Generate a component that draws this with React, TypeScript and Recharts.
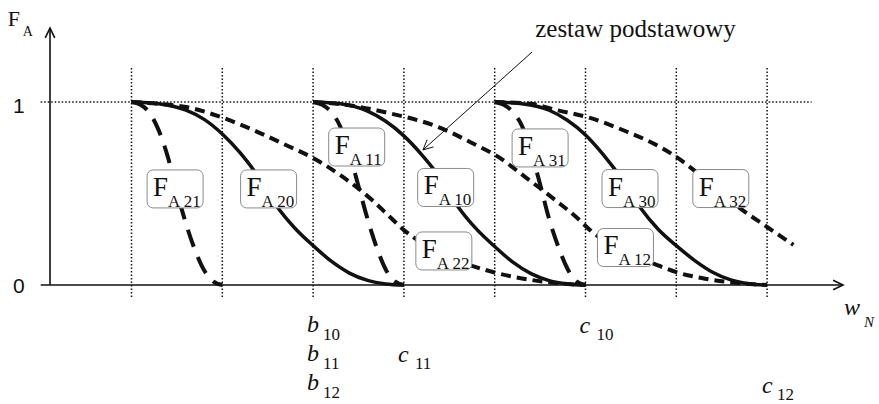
import React from "react";
import { LineChart, Line, XAxis, YAxis, ReferenceLine, ReferenceDot } from "recharts";

// w_N (jednostki siatki: b20 = 1, b10 = 3, b30 = 5) i odczytane F_A
const fa21X = [1, 1.1, 1.2, 1.3, 1.4, 1.5, 1.6, 1.7, 1.8, 1.9, 2.0];
const fa21Y = [1, 0.985, 0.94, 0.845, 0.7, 0.51, 0.335, 0.19, 0.08, 0.02, 0];

const fa20X = [1, 1.3, 1.6, 1.8, 2.0, 2.2, 2.4, 2.6, 2.8, 3.0, 3.2, 3.4, 3.6, 3.8, 4.0];
const fa20Y = [1, 0.99, 0.955, 0.905, 0.825, 0.72, 0.59, 0.43, 0.31, 0.215, 0.13, 0.065, 0.025, 0.006, 0];

const fa22X = [1, 1.3, 1.6, 2.0, 2.35, 2.7, 3.0, 3.3, 3.65, 3.85, 4.0, 4.15, 4.4, 4.75, 5.0, 5.3, 5.65, 6.0];
const fa22Y = [1, 0.99, 0.973, 0.915, 0.845, 0.765, 0.694, 0.6, 0.464, 0.37, 0.3, 0.245, 0.17, 0.105, 0.068, 0.036, 0.012, 0];

const fa11X = [3, 3.1, 3.2, 3.3, 3.4, 3.5, 3.6, 3.7, 3.8, 3.9, 4.0];
const fa11Y = [1, 0.985, 0.945, 0.865, 0.72, 0.54, 0.36, 0.205, 0.085, 0.02, 0];

const fa10X = [3, 3.3, 3.6, 3.8, 4.0, 4.2, 4.4, 4.6, 4.8, 5.0, 5.2, 5.4, 5.6, 5.8, 6.0];
const fa10Y = [1, 0.99, 0.95, 0.895, 0.815, 0.71, 0.585, 0.425, 0.305, 0.21, 0.125, 0.062, 0.024, 0.006, 0];

const fa12X = [3, 3.4, 3.83, 4.38, 4.75, 5.04, 5.31, 5.69, 5.9, 6.05, 6.2, 6.5, 6.79, 7.0, 7.3, 7.65, 8.0];
const fa12Y = [1, 0.982, 0.94, 0.863, 0.776, 0.7, 0.6, 0.455, 0.37, 0.3, 0.245, 0.17, 0.109, 0.07, 0.036, 0.012, 0];

const fa31X = [5, 5.1, 5.2, 5.3, 5.4, 5.5, 5.6, 5.7, 5.8, 5.9, 6.0];
const fa31Y = [1, 0.985, 0.945, 0.87, 0.73, 0.55, 0.36, 0.21, 0.09, 0.02, 0];

const fa30X = [5, 5.3, 5.6, 5.8, 6.0, 6.2, 6.4, 6.6, 6.8, 7.0, 7.2, 7.4, 7.6, 7.8, 8.0];
const fa30Y = [1, 0.99, 0.955, 0.9, 0.82, 0.71, 0.58, 0.425, 0.305, 0.215, 0.135, 0.07, 0.028, 0.007, 0];

const fa32X = [5, 5.4, 5.68, 6.05, 6.41, 6.78, 7.0, 7.2, 7.45, 7.7, 8.0, 8.29];
const fa32Y = [1, 0.99, 0.956, 0.913, 0.847, 0.765, 0.7, 0.625, 0.52, 0.42, 0.317, 0.219];

// pionowe linie siatki
const gridX = [1, 2, 3, 4, 5, 6, 7, 8];

const toPoints = (xs: number[], ys: number[]) => xs.map((x, i) => ({ x, y: ys[i] }));

const SOLID = undefined;
const LONG = "18 11";
const SHORT = "10 6";

const curves = [
  { id: "fa21", data: toPoints(fa21X, fa21Y), dash: LONG },
  { id: "fa20", data: toPoints(fa20X, fa20Y), dash: SOLID },
  { id: "fa22", data: toPoints(fa22X, fa22Y), dash: SHORT },
  { id: "fa11", data: toPoints(fa11X, fa11Y), dash: LONG },
  { id: "fa10", data: toPoints(fa10X, fa10Y), dash: SOLID },
  { id: "fa12", data: toPoints(fa12X, fa12Y), dash: SHORT },
  { id: "fa31", data: toPoints(fa31X, fa31Y), dash: LONG },
  { id: "fa30", data: toPoints(fa30X, fa30Y), dash: SOLID },
  { id: "fa32", data: toPoints(fa32X, fa32Y), dash: SHORT },
];

const boxes = [
  { sub: "A 21", x: 1.48, y: 0.525 },
  { sub: "A 20", x: 2.51, y: 0.525 },
  { sub: "A 11", x: 3.48, y: 0.754 },
  { sub: "A 10", x: 4.46, y: 0.533 },
  { sub: "A 22", x: 4.44, y: 0.186 },
  { sub: "A 31", x: 5.5, y: 0.749 },
  { sub: "A 30", x: 6.49, y: 0.527 },
  { sub: "A 32", x: 7.49, y: 0.527 },
  { sub: "A 12", x: 6.44, y: 0.205 },
];

const SERIF = "Liberation Serif";
const SANS = "Liberation Sans";
const INK = "#111";

const serif = (size: number, italic = false) => ({
  fontFamily: SERIF,
  fontSize: size,
  fontStyle: italic ? "italic" : "normal",
});

const BoxLabel = ({ cx, cy, sub }: { cx: number; cy: number; sub: string }) => (
  <g>
    <rect x={cx - 28} y={cy - 19} width={56} height={38} rx={6} fill="#fff" stroke="#8a8a8a" strokeWidth={1} />
    <text x={cx - 22} y={cy + 7} style={serif(27)} fill={INK}>F</text>
    <text x={cx - 7} y={cy + 18} style={serif(17)} fill={INK}>{sub}</text>
  </g>
);

const Sym = ({ cx, cy, main, sub, dxSub, dySub }: any) => (
  <g>
    <text x={cx} y={cy} style={serif(24, true)} fill={INK}>{main}</text>
    <text x={cx + dxSub} y={cy + dySub} style={serif(17)} fill={INK}>{sub}</text>
  </g>
);

const arrowHead = (p: any, head: number) => {
  const { x1, y1, x2, y2 } = p;
  const a = Math.atan2(y2 - y1, x2 - x1);
  const s = 0.45;
  const pA = [x2 - head * Math.cos(a - s), y2 - head * Math.sin(a - s)];
  const pB = [x2 - head * Math.cos(a + s), y2 - head * Math.sin(a + s)];
  return `${pA[0]},${pA[1]} ${x2},${y2} ${pB[0]},${pB[1]}`;
};

const AxisArrow = (p: any) => (
  <g>
    <line x1={p.x1} y1={p.y1} x2={p.x2} y2={p.y2} stroke={INK} strokeWidth={1.6} />
    <polyline points={arrowHead(p, 11)} fill="none" stroke={INK} strokeWidth={1.6} />
  </g>
);

const ThinArrow = (p: any) => (
  <g>
    <line x1={p.x1} y1={p.y1} x2={p.x2} y2={p.y2} stroke={INK} strokeWidth={1} />
    <polyline points={arrowHead(p, 11)} fill="none" stroke={INK} strokeWidth={1} />
  </g>
);

export default function App() {
  return (
    <div style={{ position: "absolute", left: 0, top: 0, width: 879, height: 404, background: "#fff" }}>
      <LineChart width={879} height={404} margin={{ top: 1.35, right: 21.1, bottom: 9.2, left: 40.7 }}>
        <XAxis type="number" dataKey="x" domain={[0, 9]} allowDataOverflow hide />
        <YAxis type="number" domain={[-0.6, 1.55]} allowDataOverflow hide />

        {gridX.map((gx) => (
          <ReferenceLine
            key={`g${gx}`}
            segment={[{ x: gx, y: 1.186 }, { x: gx, y: -0.066 }]}
            stroke={INK}
            strokeWidth={1.5}
            strokeDasharray="1.5 2"
          />
        ))}
        <ReferenceLine
          segment={[{ x: 0, y: 1 }, { x: 8.49, y: 1 }]}
          stroke={INK}
          strokeWidth={1.5}
          strokeDasharray="1.5 2"
        />

        <ReferenceLine segment={[{ x: 0, y: 0 }, { x: 8.836, y: 0 }]} shape={AxisArrow} />
        <ReferenceLine segment={[{ x: 0.1024, y: 0 }, { x: 0.1024, y: 1.404 }]} shape={AxisArrow} />

        {curves.map((c) => (
          <Line
            key={c.id}
            data={c.data}
            dataKey="y"
            type="monotone"
            stroke={INK}
            strokeWidth={c.dash ? 4 : 3.5}
            strokeDasharray={c.dash}
            dot={false}
            activeDot={false}
            isAnimationActive={false}
          />
        ))}

        <ReferenceLine segment={[{ x: 5.411, y: 1.273 }, { x: 4.21, y: 0.738 }]} shape={ThinArrow} />

        {boxes.map((b) => (
          <ReferenceDot
            key={b.sub}
            x={b.x}
            y={b.y}
            r={1}
            ifOverflow="visible"
            shape={(p: any) => <BoxLabel cx={p.cx} cy={p.cy} sub={b.sub} />}
          />
        ))}

        {/* opisy osi */}
        <ReferenceDot x={0} y={1} r={1} ifOverflow="visible"
          shape={(p: any) => (
            <text x={p.cx - 16} y={p.cy + 10.5} textAnchor="end" style={{ fontFamily: SANS, fontSize: 21 }} fill={INK}>1</text>
          )}
        />
        <ReferenceDot x={0} y={0} r={1} ifOverflow="visible"
          shape={(p: any) => (
            <text x={p.cx - 16} y={p.cy + 7.5} textAnchor="end" style={{ fontFamily: SANS, fontSize: 21 }} fill={INK}>0</text>
          )}
        />
        <ReferenceDot x={0} y={1.404} r={1} ifOverflow="visible"
          shape={(p: any) => (
            <g>
              <text x={p.cx - 33} y={p.cy - 2} style={serif(22)} fill={INK}>F</text>
              <text x={p.cx - 18} y={p.cy + 8} style={serif(14)} fill={INK}>A</text>
            </g>
          )}
        />
        <ReferenceDot x={8.836} y={0} r={1} ifOverflow="visible"
          shape={(p: any) => (
            <g>
              <text x={p.cx + 1} y={p.cy + 30} style={serif(24, true)} fill={INK}>w</text>
              <text x={p.cx + 21} y={p.cy + 42} style={serif(15, true)} fill={INK}>N</text>
            </g>
          )}
        />

        {/* granice przedziałów */}
        <ReferenceDot x={3} y={0} r={1} ifOverflow="visible"
          shape={(p: any) => (
            <g>
              <Sym cx={p.cx - 6} cy={p.cy + 47} main="b" sub="10" dxSub={16} dySub={8} />
              <Sym cx={p.cx - 6} cy={p.cy + 76} main="b" sub="11" dxSub={16} dySub={8} />
              <Sym cx={p.cx - 6} cy={p.cy + 105} main="b" sub="12" dxSub={16} dySub={8} />
            </g>
          )}
        />
        <ReferenceDot x={4} y={0} r={1} ifOverflow="visible"
          shape={(p: any) => <Sym cx={p.cx - 6} cy={p.cy + 77} main="c" sub="11" dxSub={17} dySub={7} />}
        />
        <ReferenceDot x={6} y={0} r={1} ifOverflow="visible"
          shape={(p: any) => <Sym cx={p.cx - 6} cy={p.cy + 48} main="c" sub="10" dxSub={17} dySub={7} />}
        />
        <ReferenceDot x={8} y={0} r={1} ifOverflow="visible"
          shape={(p: any) => <Sym cx={p.cx - 5} cy={p.cy + 108} main="c" sub="12" dxSub={15} dySub={7} />}
        />

        <ReferenceDot x={6.551} y={1.355} r={1} ifOverflow="visible"
          shape={(p: any) => (
            <text x={p.cx} y={p.cy} textAnchor="middle" style={serif(25)} fill={INK}>zestaw podstawowy</text>
          )}
        />
      </LineChart>
    </div>
  );
}
